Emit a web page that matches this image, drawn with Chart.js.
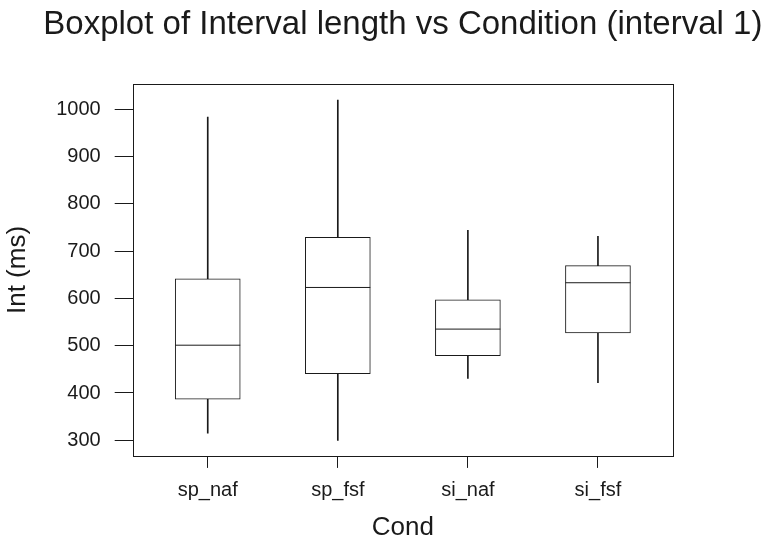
<!DOCTYPE html>
<html>
<head>
<meta charset="utf-8">
<script src="https://cdn.jsdelivr.net/npm/chart.js@4"></script>
<style>
  html, body { margin: 0; padding: 0; background: #fff; }
  #wrap { width: 766px; height: 542px; }
</style>
</head>
<body>
<div id="wrap"><canvas id="boxplot"></canvas></div>
<script>
// Conditions along the x-axis
var conds = ["sp_naf", "sp_fsf", "si_naf", "si_fsf"];

// Five-number summaries (ms)
var mins    = [315, 300, 431, 422];
var q1s     = [387, 441, 479, 527];
var medians = [501, 623, 535, 633];
var q3s     = [641, 729, 597, 669];
var maxs    = [983, 1019, 744, 731];

var yTicks = [300, 400, 500, 600, 700, 800, 900, 1000];

var titleText = "Boxplot of Interval length vs Condition (interval 1)";

// floating bars need {x, y: [lo, hi]}
function span(lo, hi) {
  return conds.map(function (c, i) { return { x: i + 1, y: [lo[i], hi[i]] }; });
}

var ink = "#1a1a1a";
var family = "'Liberation Sans', Arial, sans-serif";
Chart.defaults.font.family = family;
Chart.defaults.color = ink;

// box frame round the plot area and a title centred over it (R style)
var frame = {
  id: "frame",
  afterDatasetsDraw: function (chart) {
    var a = chart.chartArea, ctx = chart.ctx;
    ctx.save();
    ctx.strokeStyle = ink;
    ctx.lineWidth = 1;
    ctx.strokeRect(Math.round(a.left) + 0.5, Math.round(a.top) + 0.5,
      Math.round(a.right - a.left), Math.round(a.bottom - a.top));
    ctx.fillStyle = ink;
    ctx.font = "33px " + family;
    ctx.textAlign = "center";
    ctx.textBaseline = "alphabetic";
    ctx.fillText(titleText, (a.left + a.right) / 2, 34);
    ctx.restore();
  }
};

var ctx = document.getElementById("boxplot");
var myChart = new Chart(ctx, {
  type: "bar",
  data: {
    datasets: [
      {
        type: "line",
        label: "median",
        order: 0,
        data: conds.map(function (c, i) { return { x: i + 1, y: medians[i] }; }),
        showLine: false,
        pointStyle: "line",
        pointRadius: 32.5,
        pointBorderWidth: 1,
        pointBorderColor: ink
      },
      {
        label: "box",
        order: 1,
        data: span(q1s, q3s),
        backgroundColor: "#ffffff",
        borderColor: ink,
        borderWidth: 1,
        borderSkipped: false,
        barThickness: 65,
        grouped: false
      },
      {
        label: "lower whisker",
        order: 2,
        data: span(mins, q1s),
        backgroundColor: ink,
        borderWidth: 0,
        barThickness: 1,
        grouped: false
      },
      {
        label: "upper whisker",
        order: 2,
        data: span(q3s, maxs),
        backgroundColor: ink,
        borderWidth: 0,
        barThickness: 1,
        grouped: false
      }
    ]
  },
  options: {
    responsive: true,
    maintainAspectRatio: false,
    animation: false,
    layout: { padding: { left: 2, right: 93, top: 84, bottom: 0 } },
    plugins: {
      legend: { display: false },
      tooltip: { enabled: false },
      title: { display: false }
    },
    scales: {
      x: {
        type: "linear",
        min: 0.423,
        max: 4.577,
        offset: false,
        border: { display: false },
        grid: { offset: false, drawOnChartArea: false, tickLength: 12, tickColor: ink },
        ticks: {
          stepSize: 1,
          includeBounds: false,
          font: { size: 20 },
          color: ink,
          padding: 11,
          callback: function (v) { return conds[v - 1]; }
        },
        title: { display: true, text: "Cond", font: { size: 26, lineHeight: 1.08 }, color: ink, padding: { top: 0, bottom: 0 } }
      },
      y: {
        min: 267,
        max: 1053,
        border: { display: false },
        grid: { drawOnChartArea: false, tickLength: 18, tickColor: ink },
        afterBuildTicks: function (scale) {
          scale.ticks = yTicks.map(function (v) { return { value: v }; });
        },
        ticks: {
          font: { size: 20 },
          color: ink,
          padding: 14,
          callback: function (v) { return String(v); }
        },
        title: { display: true, text: "Int (ms)", font: { size: 26 }, color: ink, padding: { top: 0, bottom: 9 } }
      }
    }
  },
  plugins: [frame]
});
</script>
</body>
</html>
